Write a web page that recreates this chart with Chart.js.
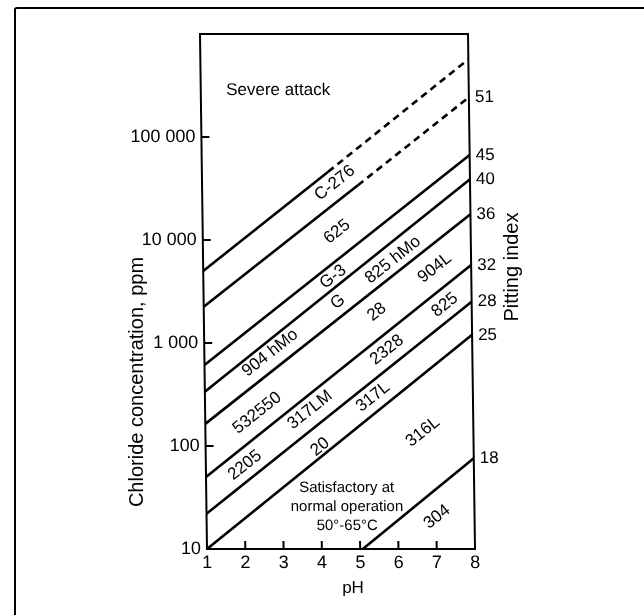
<!DOCTYPE html>
<html>
<head>
<meta charset="utf-8">
<title>Chloride concentration vs pH</title>
<script src="https://cdn.jsdelivr.net/npm/chart.js@4.4.0/dist/chart.umd.min.js"></script>
<style>
    html, body { margin: 0; padding: 0; background: #fff; }
    #wrap { position: relative; width: 644px; height: 615px; overflow: hidden; }
    #frame {
        position: absolute; left: 14px; top: 7px; width: 700px; height: 700px;
        border-left: 2px solid #000; border-top: 2px solid #000; border-top-left-radius: 3px;
    }
    #chart { position: absolute; left: 0; top: 0; }
</style>
</head>
<body>
<div id="wrap">
    <div id="frame"></div>
    <canvas id="chart" width="644" height="615"></canvas>
</div>
<script>
// limit lines, low pH end first, ending at pH 8
const linePH = [
    [1, 4.3, 8],
    [1, 5.07, 8],
    [1, 8],
    [1, 8],
    [1, 8],
    [1, 8],
    [1, 8],
    [1, 8],
    [5.07, 8]
];
const linePPM = [
    [5000, 46000, 568000],
    [2250, 34000, 243000],
    [611, 66800],
    [337, 38800],
    [164, 17800],
    [50, 5720],
    [22, 2520],
    [10, 1200],
    [10, 76]
];
// segment index from which the line is extrapolated (dashed), -1 = none
const dashedFrom = [1, 1, -1, -1, -1, -1, -1, -1, -1];
const pittingIndex = ['', '51', '45', '40', '36', '32', '28', '25', '18'];

const phTicks = [1, 2, 3, 4, 5, 6, 7, 8];
const ppmTicks = [10, 100, 1000, 10000, 100000];

// alloy names written along the bands
const alloyNames = ['C-276', '625', 'G-3', '825 hMo', '904L', 'G', '904 hMo', '28', '825',
    '532550', '2328', '317LM', '2205', '20', '317L', '316L', '304'];
const alloyPH = [4.47, 4.51, 4.39, 5.96, 7.05, 4.51, 2.72, 5.52, 7.30,
    2.36, 5.77, 3.74, 2.02, 3.99, 5.39, 6.68, 7.02];
const alloyPPM = [35700, 12000, 4380, 6400, 5350, 2500, 800, 2000, 2340,
    209, 855, 224, 65, 98, 299, 137, 20.5];

const regionText = [['Severe attack'], ['Satisfactory at', 'normal operation', '50°-65°C']];
const regionPH = [3.02, 4.67];
const regionPPM = [286000, 25.6];

const FONT = "'Liberation Sans', Arial, Helvetica, sans-serif";
const INK = '#000';
const SHEAR = 7 / 515; // the scanned box leans a little to the left

const indexEnds = linePPM.map(a => a[a.length - 1]).filter((v, i) => pittingIndex[i]);
const indexLabels = pittingIndex.filter(t => t);

function spaced(v) {
    return String(v).replace(/\B(?=(\d{3})+(?!\d))/g, ' ');
}

const paperPlugin = {
    id: 'paper',
    beforeDraw(chart) {
        const ctx = chart.ctx;
        ctx.save();
        ctx.transform(1, 0, SHEAR, 1, -SHEAR * chart.chartArea.bottom, 0);
    },
    afterDatasetsDraw(chart) {
        const ctx = chart.ctx;
        const area = chart.chartArea;
        const xs = chart.scales.x;
        const ys = chart.scales.y;

        ctx.save();
        ctx.strokeStyle = INK;
        ctx.lineWidth = 2;
        ctx.strokeRect(area.left, area.top, area.right - area.left, area.bottom - area.top);

        // inward tick marks
        ctx.beginPath();
        phTicks.slice(1, -1).forEach(v => {
            const px = xs.getPixelForValue(v);
            ctx.moveTo(px, area.bottom);
            ctx.lineTo(px, area.bottom - 8);
        });
        ppmTicks.slice(1).forEach(v => {
            const py = ys.getPixelForValue(v);
            ctx.moveTo(area.left, py);
            ctx.lineTo(area.left + 8, py);
        });
        ctx.stroke();

        // slope of the bands
        const ax = xs.getPixelForValue(linePH[2][0]);
        const ay = ys.getPixelForValue(linePPM[2][0]);
        const bx = xs.getPixelForValue(linePH[2][1]);
        const by = ys.getPixelForValue(linePPM[2][1]);
        const angle = Math.atan2(by - ay, bx - ax);

        ctx.fillStyle = INK;
        ctx.textAlign = 'center';
        ctx.textBaseline = 'middle';
        ctx.font = `17px ${FONT}`;
        alloyNames.forEach((t, i) => {
            ctx.save();
            ctx.translate(xs.getPixelForValue(alloyPH[i]), ys.getPixelForValue(alloyPPM[i]));
            ctx.rotate(angle);
            ctx.fillText(t, 0, 0);
            ctx.restore();
        });

        regionText.forEach((lines, i) => {
            ctx.font = i === 0 ? `17px ${FONT}` : `15px ${FONT}`;
            const cx = xs.getPixelForValue(regionPH[i]);
            const cy = ys.getPixelForValue(regionPPM[i]);
            const lh = 19;
            lines.forEach((t, j) => {
                ctx.fillText(t, cx, cy + (j - (lines.length - 1) / 2) * lh);
            });
        });
        ctx.restore();
    },
    afterDraw(chart) {
        const ctx = chart.ctx;
        ctx.restore();

        ctx.save();
        ctx.fillStyle = INK;
        ctx.textAlign = 'center';
        ctx.textBaseline = 'middle';
        ctx.font = `17px ${FONT}`;
        ctx.fillText('pH', 353, 588);

        ctx.font = `20px ${FONT}`;
        ctx.save();
        ctx.translate(137, 382);
        ctx.rotate(-Math.PI / 2);
        ctx.fillText('Chloride concentration, ppm', 0, 0);
        ctx.restore();

        ctx.save();
        ctx.translate(512, 267);
        ctx.rotate(-Math.PI / 2);
        ctx.fillText('Pitting index', 0, 0);
        ctx.restore();
        ctx.restore();
    }
};

const datasets = linePH.map((phs, i) => ({
    data: phs.map((p, j) => ({ x: p, y: linePPM[i][j] })),
    showLine: true,
    borderColor: INK,
    borderWidth: 2.6,
    pointRadius: 0,
    fill: false,
    tension: 0,
    segment: {
        borderDash: ctx => (dashedFrom[i] >= 0 && ctx.p0DataIndex >= dashedFrom[i]) ? [7, 5] : undefined
    }
}));

const tickFont = { family: FONT, size: 18 };

new Chart(document.getElementById('chart'), {
    type: 'scatter',
    data: { datasets },
    plugins: [paperPlugin],
    options: {
        responsive: false,
        devicePixelRatio: 1,
        animation: false,
        events: [],
        layout: { padding: { top: 34, left: 0, right: 0, bottom: 0 } },
        plugins: {
            legend: { display: false },
            tooltip: { enabled: false }
        },
        scales: {
            x: {
                type: 'linear',
                min: 1,
                max: 8,
                afterBuildTicks: s => { s.ticks = phTicks.map(v => ({ value: v })); },
                afterFit: s => { s.height = 66; },
                ticks: { color: INK, font: tickFont, padding: 3, maxRotation: 0, autoSkip: false },
                grid: { display: false, drawTicks: false },
                border: { display: false }
            },
            y: {
                type: 'logarithmic',
                position: 'left',
                min: 10,
                max: 1000000,
                afterBuildTicks: s => { s.ticks = ppmTicks.map(v => ({ value: v })); },
                afterFit: s => { s.width = 207; },
                ticks: { color: INK, font: tickFont, padding: 6, autoSkip: false, callback: v => spaced(v) },
                grid: { display: false, drawTicks: false },
                border: { display: false }
            },
            y2: {
                type: 'logarithmic',
                position: 'right',
                min: 10,
                max: 1000000,
                afterBuildTicks: s => { s.ticks = indexEnds.map(v => ({ value: v })); },
                afterFit: s => { s.width = 169; },
                ticks: {
                    color: INK, font: { family: FONT, size: 17 }, padding: 6, autoSkip: false,
                    callback: v => indexLabels[indexEnds.indexOf(v)]
                },
                grid: { display: false, drawTicks: false },
                border: { display: false }
            }
        }
    }
});
</script>
</body>
</html>
